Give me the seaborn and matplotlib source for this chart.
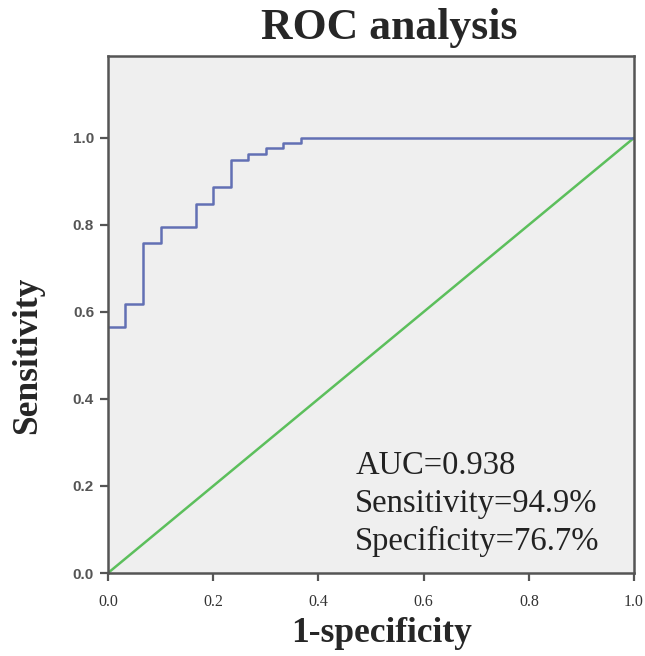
import matplotlib
matplotlib.use("Agg")
from matplotlib import pyplot as plt
import seaborn as sns
import pandas as pd

# ROC curve points (1-specificity, sensitivity)
fpr = [0.0, 0.033, 0.067, 0.100, 0.167, 0.200, 0.233, 0.267, 0.300, 0.333, 0.367, 1.0]
tpr = [0.566, 0.618, 0.758, 0.796, 0.848, 0.886, 0.950, 0.964, 0.976, 0.988, 1.0, 1.0]
ref_x = [0.0, 1.0]
ref_y = [0.0, 1.0]
ticks = [0.0, 0.2, 0.4, 0.6, 0.8, 1.0]
stats = ["AUC=0.938", "Sensitivity=94.9%", "Specificity=76.7%"]
stats_y = [0.228, 0.140, 0.053]

roc = pd.DataFrame({"fpr": fpr, "tpr": tpr})
ref = pd.DataFrame({"x": ref_x, "y": ref_y})

sns.set_style("white")
serif = "Liberation Serif"

fig = plt.figure(figsize=(6.45, 6.56), dpi=100)
ax = fig.add_axes([0.1674, 0.1265, 0.8156, 0.7881])
ax.set_facecolor("#efefef")

sns.lineplot(data=ref, x="x", y="y", color="#5cbf5c", linewidth=1.8, ax=ax)
sns.lineplot(data=roc, x="fpr", y="tpr", color="#6270b4", linewidth=1.8,
             drawstyle="steps-post", ax=ax)

ax.set_xlim(0, 1)
ax.set_ylim(0, 1.188)
ax.set_xticks(ticks)
ax.set_yticks(ticks)
ax.set_xticklabels([f"{t:.1f}" for t in ticks], fontfamily=serif, fontsize=11.5, color="#333333")
ax.set_yticklabels([f"{t:.1f}" for t in ticks], fontfamily="Liberation Sans",
                   fontweight="bold", fontsize=11, color="#555555")
ax.tick_params(axis="both", direction="out", length=6, width=1.6, color="#555555",
               bottom=True, left=True, pad=4)
ax.tick_params(axis="x", pad=9)

for sp in ax.spines.values():
    sp.set_color("#555555")
    sp.set_linewidth(1.8)

ax.set_xlabel("1-specificity", fontfamily=serif, fontweight="bold", fontsize=25.5, labelpad=4)
ax.xaxis.set_label_coords(0.52, -0.085)
ax.set_ylabel("Sensitivity", fontfamily=serif, fontweight="bold", fontsize=25.5, labelpad=12)
ax.yaxis.set_label_coords(-0.122, 0.5 / 1.188)
fig.text(0.603, 0.9405, "ROC analysis", fontfamily=serif, fontweight="bold",
         fontsize=31.5, ha="center", va="baseline")

for s, y in zip(stats, stats_y):
    ax.text(0.470, y, s, fontfamily=serif, fontsize=23.5,
            color="#222222", va="baseline")

fig.savefig("out.png", dpi=100)
